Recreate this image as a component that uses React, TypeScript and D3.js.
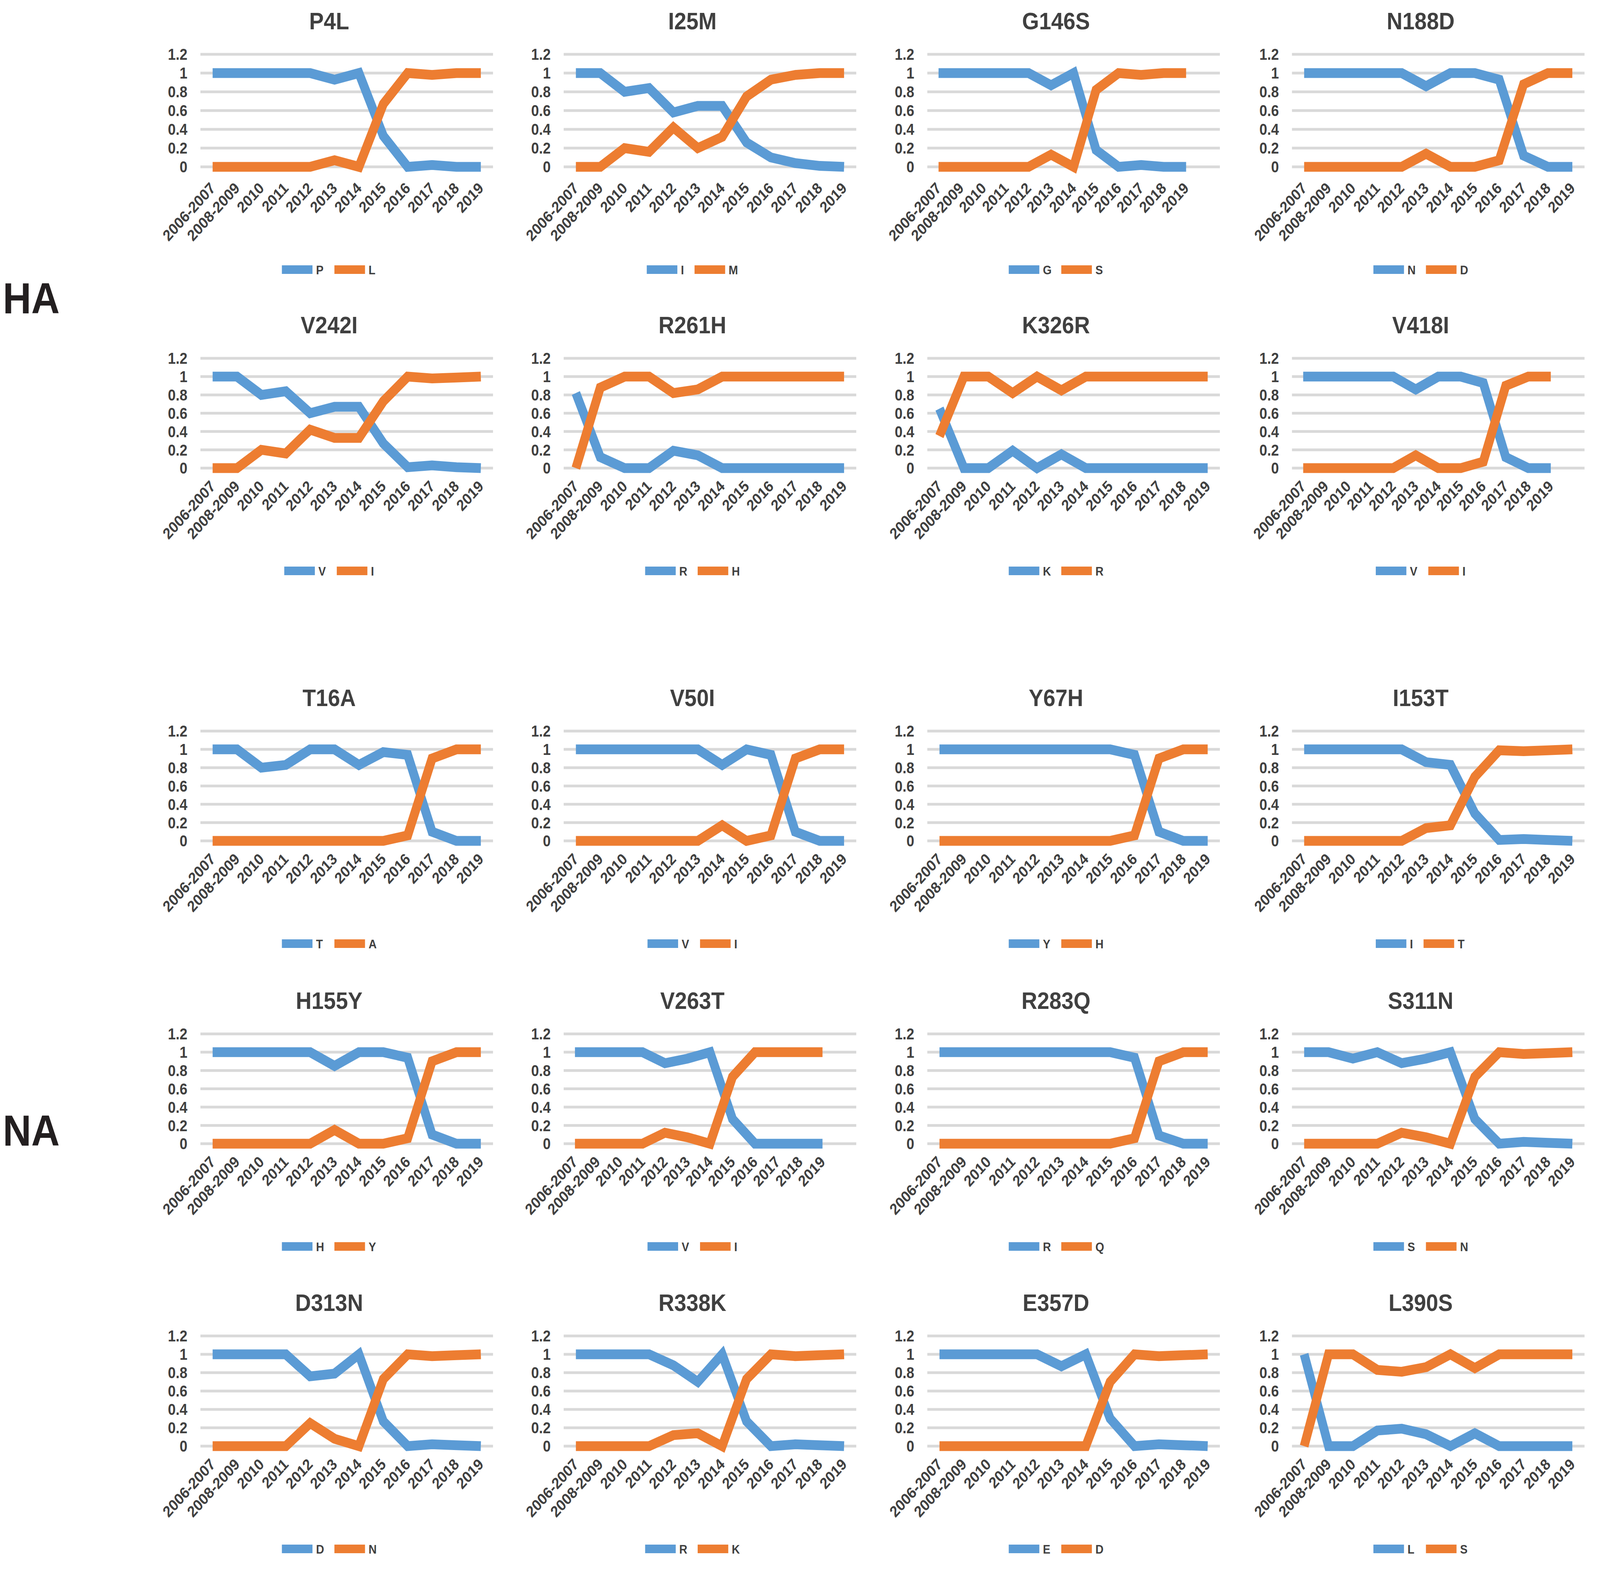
import React from "react";
import * as d3 from "d3";

const categories = ["2006-2007","2008-2009","2010","2011","2012","2013","2014","2015","2016","2017","2018","2019"];
const yTicks = [0, 0.2, 0.4, 0.6, 0.8, 1, 1.2];

// HA
const P4L_P = [1,1,1,1,1,0.93,1,0.33,0,0.02,0,0];
const P4L_L = [0,0,0,0,0,0.07,0,0.67,1,0.98,1,1];
const I25M_I = [1,1,0.8,0.84,0.58,0.65,0.65,0.26,0.1,0.04,0.01,0];
const I25M_M = [0,0,0.2,0.16,0.42,0.2,0.32,0.75,0.93,0.98,1,1];
const G146S_G = [1,1,1,1,1,0.87,1,0.18,0,0.02,0,0];
const G146S_S = [0,0,0,0,0,0.13,0,0.82,1,0.98,1,1];
const N188D_N = [1,1,1,1,1,0.86,1,1,0.93,0.12,0,0];
const N188D_D = [0,0,0,0,0,0.14,0,0,0.07,0.88,1,1];
const V242I_V = [1,1,0.8,0.84,0.6,0.67,0.67,0.27,0.01,0.03,0.01,0];
const V242I_I = [0,0,0.2,0.16,0.42,0.33,0.33,0.73,1,0.98,0.99,1];
const R261H_R = [0.82,0.12,0,0,0.19,0.14,0,0,0,0,0,0];
const R261H_H = [0,0.88,1,1,0.82,0.86,1,1,1,1,1,1];
const K326R_K = [0.65,0,0,0.19,0,0.15,0,0,0,0,0,0];
const K326R_R = [0.35,1,1,0.82,1,0.85,1,1,1,1,1,1];
const V418I_V = [1,1,1,1,1,0.86,1,1,0.93,0.12,0,0];
const V418I_I = [0,0,0,0,0,0.14,0,0,0.07,0.9,1,1];
// NA
const T16A_T = [1,1,0.8,0.83,1,1,0.83,0.97,0.94,0.1,0,0];
const T16A_A = [0,0,0,0,0,0,0,0,0.06,0.9,1,1];
const V50I_V = [1,1,1,1,1,1,0.83,1,0.94,0.1,0,0];
const V50I_I = [0,0,0,0,0,0,0.17,0,0.06,0.9,1,1];
const Y67H_Y = [1,1,1,1,1,1,1,1,0.94,0.1,0,0];
const Y67H_H = [0,0,0,0,0,0,0,0,0.06,0.9,1,1];
const I153T_I = [1,1,1,1,1,0.86,0.83,0.3,0.01,0.02,0.01,0];
const I153T_T = [0,0,0,0,0,0.14,0.17,0.7,0.99,0.98,0.99,1];
const H155Y_H = [1,1,1,1,1,0.85,1,1,0.94,0.1,0,0];
const H155Y_Y = [0,0,0,0,0,0.15,0,0,0.06,0.9,1,1];
const V263T_V = [1,1,1,1,0.88,0.93,1,0.27,0,0,0,0];
const V263T_I = [0,0,0,0,0.12,0.07,0,0.73,1,1,1,1];
const R283Q_R = [1,1,1,1,1,1,1,1,0.94,0.09,0,0];
const R283Q_Q = [0,0,0,0,0,0,0,0,0.06,0.9,1,1];
const S311N_S = [1,1,0.93,1,0.88,0.93,1,0.27,0,0.02,0.01,0];
const S311N_N = [0,0,0,0,0.12,0.07,0,0.73,1,0.98,0.99,1];
const D313N_D = [1,1,1,1,0.76,0.79,1,0.27,0,0.02,0.01,0];
const D313N_N = [0,0,0,0,0.25,0.08,0,0.73,1,0.98,0.99,1];
const R338K_R = [1,1,1,1,0.88,0.7,1,0.27,0,0.02,0.01,0];
const R338K_K = [0,0,0,0,0.12,0.14,0,0.73,1,0.98,0.99,1];
const E357D_E = [1,1,1,1,1,0.87,1,0.3,0,0.02,0.01,0];
const E357D_D = [0,0,0,0,0,0,0,0.7,1,0.98,0.99,1];
const L390S_L = [1,0,0,0.17,0.19,0.13,0,0.14,0,0,0,0];
const L390S_S = [0,1,1,0.83,0.81,0.86,1,0.85,1,1,1,1];

type Panel = { title: string; a: string; b: string; av: number[]; bv: number[]; extra?: boolean };

const panels: Panel[] = [
  { title: "P4L", a: "P", b: "L", av: P4L_P, bv: P4L_L },
  { title: "I25M", a: "I", b: "M", av: I25M_I, bv: I25M_M },
  { title: "G146S", a: "G", b: "S", av: G146S_G, bv: G146S_S, extra: true },
  { title: "N188D", a: "N", b: "D", av: N188D_N, bv: N188D_D },
  { title: "V242I", a: "V", b: "I", av: V242I_V, bv: V242I_I },
  { title: "R261H", a: "R", b: "H", av: R261H_R, bv: R261H_H },
  { title: "K326R", a: "K", b: "R", av: K326R_K, bv: K326R_R },
  { title: "V418I", a: "V", b: "I", av: V418I_V, bv: V418I_I, extra: true },
  { title: "T16A", a: "T", b: "A", av: T16A_T, bv: T16A_A },
  { title: "V50I", a: "V", b: "I", av: V50I_V, bv: V50I_I },
  { title: "Y67H", a: "Y", b: "H", av: Y67H_Y, bv: Y67H_H },
  { title: "I153T", a: "I", b: "T", av: I153T_I, bv: I153T_T },
  { title: "H155Y", a: "H", b: "Y", av: H155Y_H, bv: H155Y_Y },
  { title: "V263T", a: "V", b: "I", av: V263T_V, bv: V263T_I, extra: true },
  { title: "R283Q", a: "R", b: "Q", av: R283Q_R, bv: R283Q_Q },
  { title: "S311N", a: "S", b: "N", av: S311N_S, bv: S311N_N },
  { title: "D313N", a: "D", b: "N", av: D313N_D, bv: D313N_N },
  { title: "R338K", a: "R", b: "K", av: R338K_R, bv: R338K_K },
  { title: "E357D", a: "E", b: "D", av: E357D_E, bv: E357D_D },
  { title: "L390S", a: "L", b: "S", av: L390S_L, bv: L390S_S },
];

const colX = [570, 1603, 2637, 3674];
const plotW = 832;
const rows = [
  { top: 139, bot: 427, lab: 57 },
  { top: 917, bot: 1198, lab: 49 },
  { top: 1871, bot: 2152, lab: 49 },
  { top: 2646, bot: 2927, lab: 49 },
  { top: 3419, bot: 3701, lab: 49 },
];

const BLUE = "#5B9BD5";
const ORANGE = "#ED7D31";
const TEXT = "#404040";
const FONT = "'Liberation Sans', Arial, Helvetica, sans-serif";

function letterW(ch: string, fs: number) {
  if (ch === "I") return 0.278 * fs;
  if (ch === "M") return 0.833 * fs;
  return 0.7 * fs;
}

function Chart({ p, x0, top, bot, lab }: { p: Panel; x0: number; top: number; bot: number; lab: number }) {
  const domain = p.extra ? [...categories, "__blank__"] : categories;
  const x = d3.scalePoint<string>().domain(domain).range([x0, x0 + plotW]).padding(0.5);
  const y = d3.scaleLinear().domain([0, 1.2]).range([bot, top]);
  const line = d3
    .line<number>()
    .x((_, i) => x(categories[i]) as number)
    .y((d) => y(d));
  const cx = x0 + 366;
  const lfs = 32;
  const sw = 87;
  const wa = letterW(p.a, lfs);
  const wb = letterW(p.b, lfs);
  const total = sw + 10 + wa + 30 + sw + 10 + wb;
  const lx = cx - total / 2;
  const ly = bot + 263;
  return (
    <g>
      <text x={cx} y={top - 64} textAnchor="middle" fontFamily={FONT} fontWeight="bold" fontSize={62} fill={TEXT}>
        {p.title}
      </text>
      {yTicks.map((t) => (
        <g key={t}>
          <line x1={x0} x2={x0 + plotW} y1={y(t)} y2={y(t)} stroke="#D9D9D9" strokeWidth={7} />
          <text x={x0 - 37} y={y(t)} dy="0.36em" textAnchor="end" fontFamily={FONT} fontWeight="bold" fontSize={40} fill={TEXT}>
            {d3.format("~g")(t)}
          </text>
        </g>
      ))}
      {categories.map((c) => (
        <text
          key={c}
          transform={`translate(${(x(c) as number) + 10},${bot + lab}) rotate(-45)`}
          textAnchor="end"
          fontFamily={FONT}
          fontWeight="bold"
          fontSize={40}
          fill={TEXT}
        >
          {c}
        </text>
      ))}
      <path d={line(p.av) || ""} fill="none" stroke={BLUE} strokeWidth={25} strokeLinejoin="miter" strokeMiterlimit={3} />
      <path d={line(p.bv) || ""} fill="none" stroke={ORANGE} strokeWidth={25} strokeLinejoin="miter" strokeMiterlimit={3} />
      <rect x={lx} y={ly - 11} width={sw} height={22} fill={BLUE} />
      <text x={lx + sw + 10} y={ly} dy="0.36em" fontFamily={FONT} fontWeight="bold" fontSize={lfs} fill={TEXT}>
        {p.a}
      </text>
      <rect x={lx + sw + 10 + wa + 30} y={ly - 11} width={sw} height={22} fill={ORANGE} />
      <text x={lx + sw + 10 + wa + 30 + sw + 10} y={ly} dy="0.36em" fontFamily={FONT} fontWeight="bold" fontSize={lfs} fill={TEXT}>
        {p.b}
      </text>
    </g>
  );
}

export default function App() {
  return (
    <svg
      viewBox="0 0 4550 4018"
      preserveAspectRatio="none"
      style={{ position: "fixed", left: 0, top: 0, width: "100vw", height: "100vh", background: "#fff", display: "block" }}
    >
      <rect x={0} y={0} width={4550} height={4018} fill="#fff" />
      <text x={8} y={802} fontFamily={FONT} fontWeight="bold" fontSize={112} fill="#231F20">HA</text>
      <text x={8} y={2932} fontFamily={FONT} fontWeight="bold" fontSize={112} fill="#231F20">NA</text>
      {panels.map((p, i) => {
        const r = rows[Math.floor(i / 4)];
        return <Chart key={p.title} p={p} x0={colX[i % 4]} top={r.top} bot={r.bot} lab={r.lab} />;
      })}
    </svg>
  );
}
